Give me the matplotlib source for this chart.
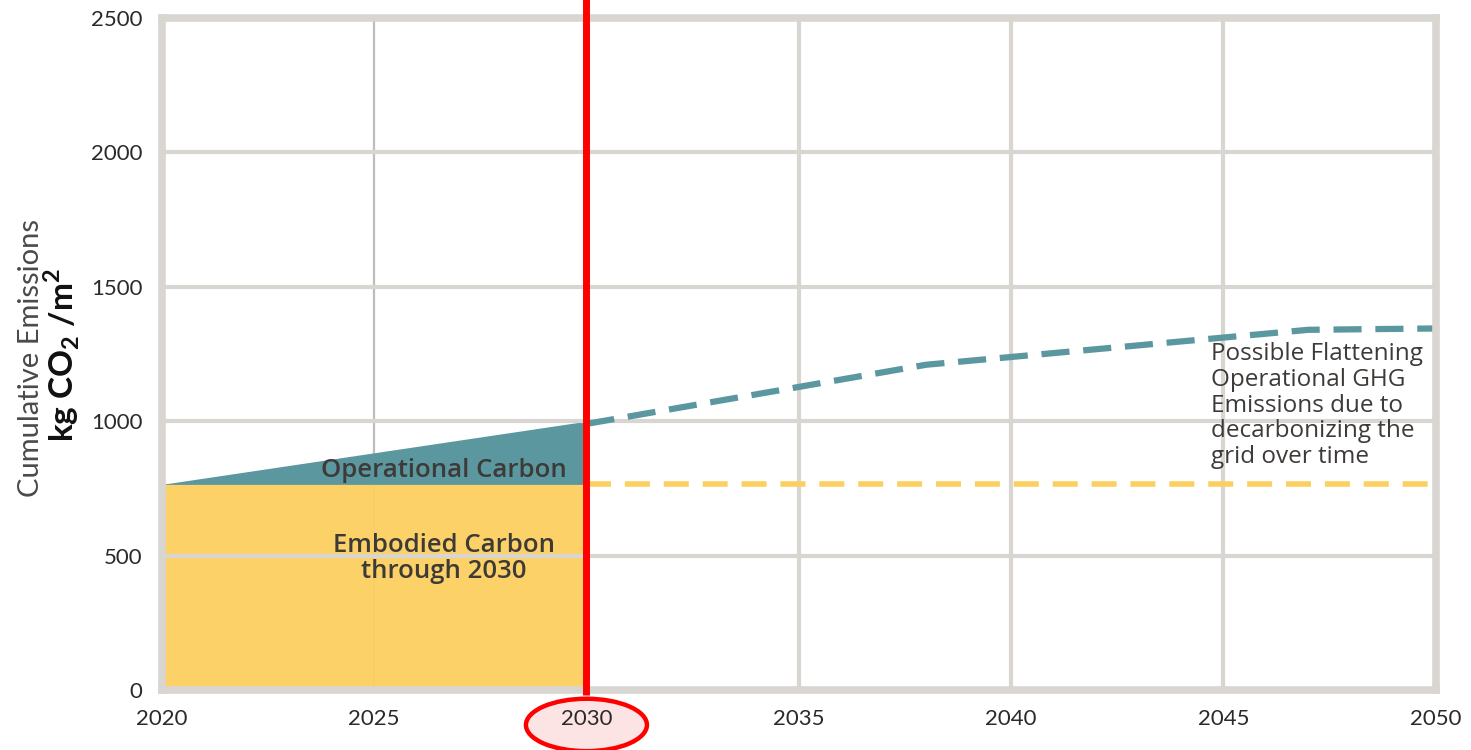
import matplotlib.pyplot as plt
from matplotlib.patches import Ellipse

# Cumulative emissions data (kg CO2 / m2)
years_to_2030 = [2020, 2030]
embodied = [765, 765]
operational_to_2030 = [765, 1000]

years_after = [2030, 2038, 2047, 2050]
operational_after = [990, 1210, 1340, 1345]
embodied_after_years = [2030, 2050]
embodied_after = [765, 765]

xticks = [2020, 2025, 2030, 2035, 2040, 2045, 2050]
yticks = [0, 500, 1000, 1500, 2000, 2500]

grid_c = "#d9d6d1"
yellow = "#fcd060"
teal = "#5b979f"
text_c = "#3d3a38"

plt.rcParams['font.family'] = ['Lato', 'DejaVu Sans']
plt.rcParams['mathtext.fontset'] = 'custom'
plt.rcParams['mathtext.rm'] = 'Lato'
plt.rcParams['mathtext.bf'] = 'Lato:bold'

fig = plt.figure(figsize=(14.71, 7.5), dpi=100)
ax = fig.add_axes([0.110, 0.080, 0.866, 0.896])

ax.set_xlim(2020, 2050)
ax.set_ylim(0, 2500)

# grid
for y in yticks[1:-1]:
    ax.axhline(y, color=grid_c, lw=3, zorder=3)
for x in [2035, 2040, 2045]:
    ax.axvline(x, color=grid_c, lw=3, zorder=1)
ax.axvline(2025, color="#bdbdbd", lw=1.6, zorder=1)

# filled areas up to 2030
ax.fill_between(years_to_2030, 0, embodied, color=yellow, alpha=0.95, lw=0, zorder=2)
ax.fill_between(years_to_2030, embodied, operational_to_2030, color=teal, lw=0, zorder=2)

# projections after 2030
ax.plot(embodied_after_years, embodied_after, color=yellow, lw=4, ls=(0, (4.5, 2.5)), zorder=4)
ax.plot(years_after, operational_after, color=teal, lw=4.5, ls=(0, (4.5, 2.2)), zorder=4)

# 2030 marker
ax.plot([2030, 2030], [-0.008, 1.05], color="#ff0000", lw=5, zorder=6,
        transform=ax.get_xaxis_transform(), clip_on=False, solid_capstyle='butt')
ell = Ellipse((2030, -0.052), 2.85, 0.078, transform=ax.get_xaxis_transform(),
              facecolor="#fde4e4", edgecolor="#ff0000", lw=3.2, clip_on=False, zorder=1)
ax.add_patch(ell)

for s in ax.spines.values():
    s.set_color(grid_c)
    s.set_linewidth(5.5)
    s.set_zorder(5)

ax.set_xticks(xticks)
ax.set_yticks(yticks)
ax.tick_params(length=0, labelsize=16, labelcolor="#2a2a2a", pad=14)

# labels inside the plot
ax.text(2026.65, 815, "Operational Carbon", ha='center', va='center', fontsize=18.5,
        fontweight='semibold', family='Open Sans', color=text_c, zorder=7)
ax.text(2026.65, 490, "Embodied Carbon\nthrough 2030", ha='center', va='center', fontsize=18.5,
        fontweight='semibold', family='Open Sans', color=text_c, linespacing=1.05, zorder=7)
ax.text(2044.7, 1295, "Possible Flattening\nOperational GHG\nEmissions due to\ndecarbonizing the\ngrid over time",
        ha='left', va='top', fontsize=17.5, family='Open Sans', color=text_c,
        linespacing=1.1, zorder=7)

# y axis title
fig.text(0.021, 0.523, "Cumulative Emissions", rotation=90, ha='center', va='center',
         fontsize=21, color="#4a4a4a")
fig.text(0.042, 0.527, r"kg CO$_\mathbf{2}$ /m$^\mathbf{2}$", rotation=90, ha='center', va='center',
         fontsize=24, fontweight='bold', color="#111111")

fig.savefig("out.png", dpi=100)
